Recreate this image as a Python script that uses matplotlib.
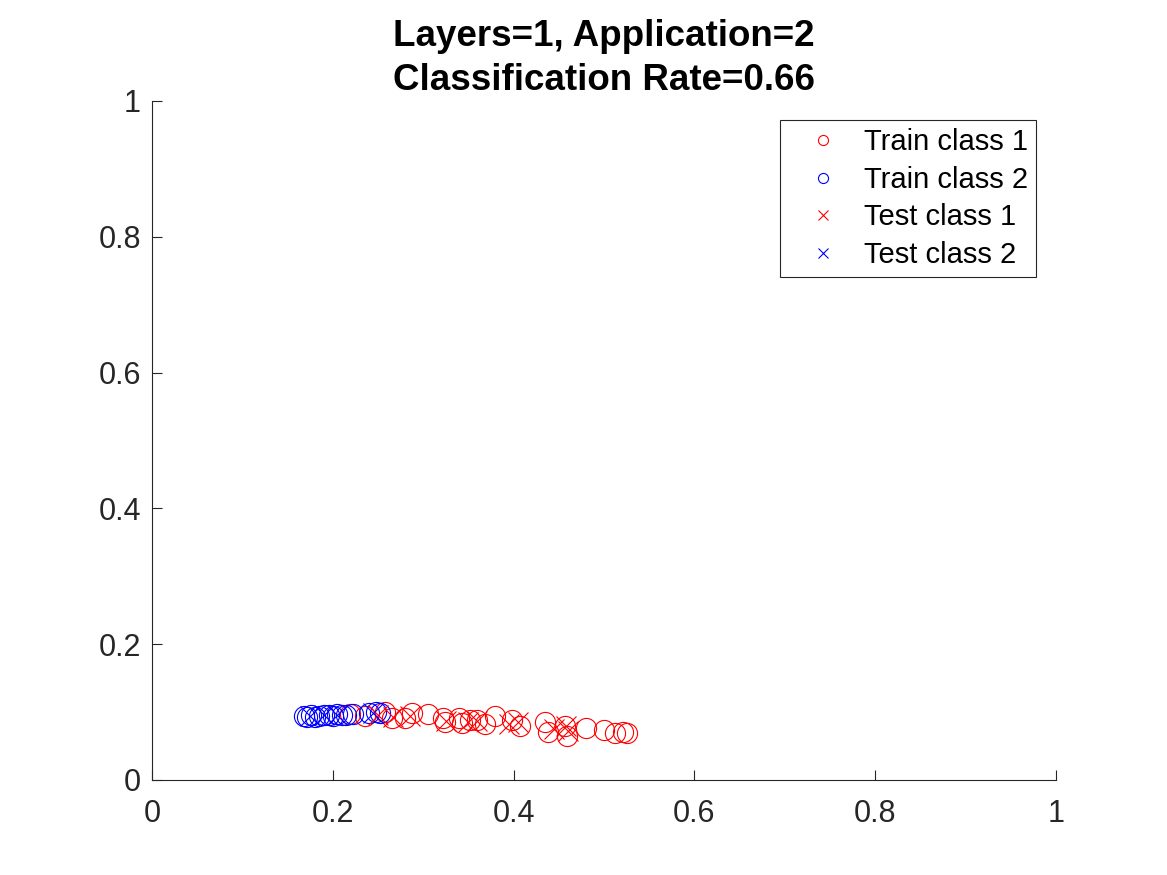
# Streudiagramm: Klassifikation mit einer Schicht
import matplotlib
matplotlib.use("Agg")
import matplotlib.pyplot as plt

plt.rcParams['font.family'] = ['Liberation Sans', 'DejaVu Sans']

# Trainingsdaten Klasse 1 (rot, Kreise)
train1_x = [0.219, 0.236, 0.258, 0.265, 0.280, 0.288, 0.305, 0.322, 0.324, 0.340,
            0.343, 0.352, 0.360, 0.368, 0.379, 0.398, 0.407, 0.435, 0.438, 0.457,
            0.459, 0.480, 0.500, 0.512, 0.521, 0.525]
train1_y = [0.097, 0.094, 0.100, 0.091, 0.091, 0.099, 0.097, 0.091, 0.085, 0.091,
            0.084, 0.088, 0.088, 0.082, 0.094, 0.088, 0.079, 0.085, 0.071, 0.079,
            0.065, 0.077, 0.074, 0.069, 0.071, 0.069]

# Trainingsdaten Klasse 2 (blau, Kreise)
train2_x = [0.168, 0.172, 0.176, 0.180, 0.185, 0.190, 0.196, 0.200, 0.205, 0.210,
            0.215, 0.222, 0.240, 0.248, 0.252]
train2_y = [0.094, 0.093, 0.095, 0.093, 0.094, 0.095, 0.096, 0.094, 0.097, 0.095,
            0.096, 0.097, 0.098, 0.100, 0.099]

# Testdaten Klasse 1 (rot, Kreuze)
test1_x = [0.250, 0.267, 0.285, 0.325, 0.350, 0.360, 0.395, 0.405, 0.445, 0.458, 0.460]
test1_y = [0.095, 0.093, 0.094, 0.087, 0.085, 0.087, 0.083, 0.085, 0.075, 0.080, 0.072]

# Testdaten Klasse 2 (blau, Kreuze)
test2_x = [0.175, 0.190, 0.205, 0.245]
test2_y = [0.094, 0.096, 0.095, 0.098]

fig = plt.figure(figsize=(11.67, 8.75), dpi=100)
ax = fig.add_axes([0.1302, 0.1086, 0.7747, 0.776])

ms = 14.5
ax.plot(train1_x, train1_y, 'o', color='red', mfc='none', ms=ms, mew=0.8, label='Train class 1')
ax.plot(train2_x, train2_y, 'o', color='blue', mfc='none', ms=ms, mew=0.8, label='Train class 2')
ax.plot(test1_x, test1_y, 'x', color='red', ms=ms, mew=0.8, label='Test class 1')
ax.plot(test2_x, test2_y, 'x', color='blue', ms=ms, mew=0.8, label='Test class 2')

ax.set_xlim(0, 1)
ax.set_ylim(0, 1)
ax.set_xticks([0, 0.2, 0.4, 0.6, 0.8, 1])
ax.set_yticks([0, 0.2, 0.4, 0.6, 0.8, 1])
ax.set_xticklabels(['0', '0.2', '0.4', '0.6', '0.8', '1'])
ax.set_yticklabels(['0', '0.2', '0.4', '0.6', '0.8', '1'])
ax.spines['top'].set_visible(False)
ax.spines['right'].set_visible(False)
for s in ['left', 'bottom']:
    ax.spines[s].set_color('#262626')
    ax.spines[s].set_linewidth(0.8)
ax.tick_params(direction='in', length=7, width=0.8, colors='#262626', labelsize=22)
ax.tick_params(axis='x', pad=14)
ax.tick_params(axis='y', pad=8)

ax.set_title('Layers=1, Application=2\nClassification Rate=0.66',
             fontsize=26.5, fontweight='bold', pad=8, linespacing=1.32)

leg = ax.legend(loc='upper right', fontsize=21, markerscale=0.5, fancybox=False,
                edgecolor='#262626', framealpha=1, borderpad=0.28,
                handletextpad=0.2, labelspacing=0.33, handlelength=2.4,
                borderaxespad=0, bbox_to_anchor=(0.978, 0.972))
leg.get_frame().set_linewidth(0.8)

fig.savefig('out.png', dpi=100)
